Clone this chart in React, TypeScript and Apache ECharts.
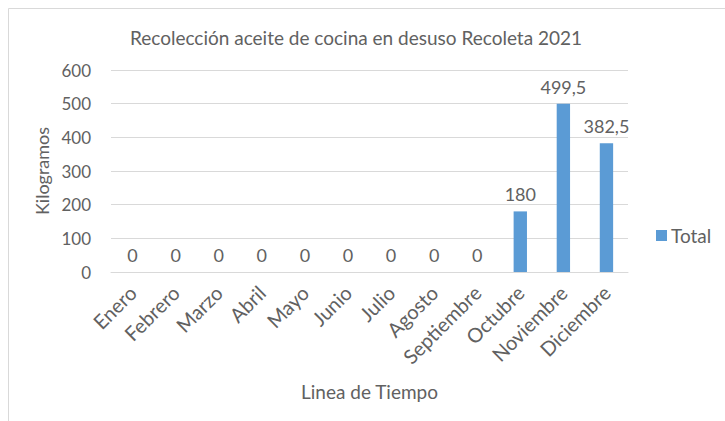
import React, { useEffect, useRef } from "react";
import * as echarts from "echarts";

const months = [
  "Enero", "Febrero", "Marzo", "Abril", "Mayo", "Junio",
  "Julio", "Agosto", "Septiembre", "Octubre", "Noviembre", "Diciembre",
];
const totals = [0, 0, 0, 0, 0, 0, 0, 0, 0, 180, 499.5, 382.5];
const seriesName = "Total";
const titleText = "Recolección aceite de cocina en desuso Recoleta 2021";
const yName = "Kilogramos";
const xName = "Linea de Tiempo";

const FONT = "Lato, 'Open Sans', sans-serif";
const TXT = "#616161";
const GRID = "#d9d9d9";

export default function App() {
  const ref = useRef<HTMLDivElement>(null);
  useEffect(() => {
    if (!ref.current) return;
    const chart = echarts.init(ref.current, undefined, { renderer: "svg" });
    chart.setOption({
      animation: false,
      backgroundColor: "#ffffff",
      textStyle: { fontFamily: FONT, color: TXT },
      graphic: [
        {
          type: "rect",
          shape: { x: 8.5, y: 8.5, width: 900, height: 600 },
          style: { fill: "none", stroke: "#d9d9d9", lineWidth: 1 },
          silent: true,
          z: -1,
        },
      ],
      title: {
        text: titleText,
        left: 351,
        textAlign: "center",
        top: 23,
        textStyle: { fontFamily: FONT, fontSize: 19, fontWeight: "normal", color: TXT },
      },
      legend: {
        data: [seriesName],
        left: 656,
        top: 226,
        padding: 0,
        icon: "rect",
        itemWidth: 11,
        itemHeight: 11,
        itemGap: 5,
        textStyle: { fontFamily: FONT, fontSize: 19, color: TXT, padding: [0, 0, 0, -1] },
      },
      grid: { left: 111, right: 97, top: 70, bottom: 149, containLabel: false },
      xAxis: {
        type: "category",
        data: months,
        name: xName,
        nameLocation: "middle",
        nameGap: 110,
        nameTextStyle: { fontFamily: FONT, fontSize: 19, color: TXT },
        axisLine: { show: true, lineStyle: { color: GRID, width: 1 } },
        axisTick: { show: false },
        axisLabel: {
          interval: 0,
          rotate: 45,
          margin: 17,
          fontFamily: FONT,
          fontSize: 20,
          color: TXT,
        },
      },
      yAxis: {
        type: "value",
        min: 0,
        max: 600,
        interval: 100,
        name: yName,
        nameLocation: "middle",
        nameGap: 60,
        nameRotate: 90,
        nameTextStyle: { fontFamily: FONT, fontSize: 18, color: TXT },
        axisLine: { show: false },
        axisTick: { show: false },
        axisLabel: { margin: 20, fontFamily: FONT, fontSize: 17, color: TXT },
        splitLine: { lineStyle: { color: GRID, width: 1 } },
      },
      series: [
        {
          name: seriesName,
          type: "bar",
          data: totals,
          barWidth: "31%",
          itemStyle: { color: "#5b9bd5" },
          label: {
            show: true,
            position: "top",
            distance: 8,
            fontFamily: FONT,
            fontSize: 18,
            color: TXT,
            formatter: (p: any) => String(p.value).replace(".", ","),
          },
        },
      ],
    });
    return () => chart.dispose();
  }, []);
  return (
    <div
      ref={ref}
      style={{ position: "absolute", left: 0, top: 0, width: 725, height: 421 }}
    />
  );
}
